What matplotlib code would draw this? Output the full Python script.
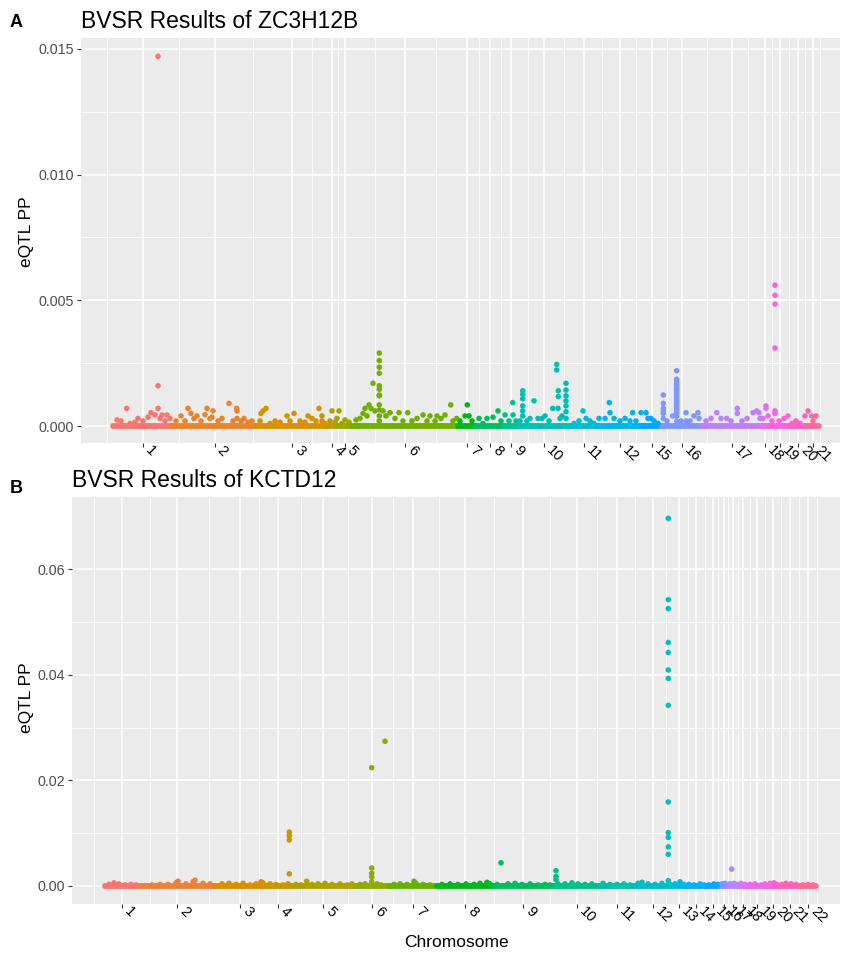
import numpy as np
import matplotlib
matplotlib.use("Agg")
import matplotlib.pyplot as plt

plt.rcParams["font.family"] = ["Liberation Sans", "DejaVu Sans"]

# ---- panel A : ZC3H12B ----
CHR_A = ["1", "2", "3", "4", "5", "6", "7", "8", "9", "10", "11", "12",
         "15", "16", "17", "18", "19", "20", "21"]
# cumulative SNP-index boundaries of each chromosome
BOUNDS_A = [113, 172, 257, 327, 337, 352, 458, 476, 504, 518, 570, 598,
            642, 661, 702, 761, 769, 790, 806, 819]
POS_A = [
    117, 121, 126.7, 130, 135, 138, 143, 148, 151, 155, 158, 158, 158, 160, 162, 165, 167, 170,
    176, 181, 185, 188, 191, 194, 197, 201, 205, 207, 210, 212, 213, 218, 222, 229, 233,
    236.7, 237, 237, 241, 244, 248, 252,
    260, 261, 263, 266, 270, 275, 280, 287, 290, 294, 300, 305, 308, 312, 316, 319, 322, 322, 325,
    330, 332, 335,
    337, 339, 342, 345, 349,
    356, 360, 363, 365, 367, 369, 371, 373, 375, 379.3, 379.3, 379.3, 379.3, 379.3, 379.3,
    379.3, 379.3, 379.3, 379.3, 379.3, 379.3, 383, 386, 390, 395, 399, 403, 407.7, 412, 417,
    423, 427, 430, 435, 437, 441, 445, 450.7, 453, 456.7,
    460, 465, 467.3, 469, 472,
    479, 483, 487, 493, 498, 501,
    505, 509, 512.7, 513, 516,
    520, 522.7, 522.7, 522.7, 522.7, 522.7, 522.7, 527, 530, 534, 538, 542, 545, 549, 552.7,
    556.7, 556.7, 558.3, 558.3, 558, 560, 562, 566, 566, 566, 566, 566, 566, 566,
    574, 579, 583, 586, 590, 594,
    599, 605, 609.3, 610, 614, 620, 625, 630, 632.7, 636, 641,
    646, 648, 651, 654, 658,
    663.3, 663.3, 663.3, 663.3, 667, 672.7, 676.7, 676.7, 676.7, 676.7, 676.7, 676.7, 676.7,
    676.7, 676.7, 676.7, 676.7, 676.7, 676.7, 681, 686, 686, 690, 694, 698, 699,
    676.7, 676.7, 676.7, 676.7, 676.7, 676.7, 676.7, 676.7, 676.7, 676.7, 663.3, 663.3,
    706, 711, 716.7, 721, 726.7, 731, 737.3, 737.3, 742, 747, 753, 756.7, 759, 760,
    763, 766, 766, 768,
    772, 775, 775, 775, 775, 775, 775, 779, 784, 788,
    792, 796, 800, 805,
    808, 811.7, 813, 816,
]
PP_A = [
    0.00024, 0.0002, 0.0007, 0.0001, 0.00015, 0.0003, 0.0002, 0.00035, 0.00053, 0.00044,
    0.0147, 0.0016, 0.0007, 0.0003, 0.00044, 0.0002, 0.00044, 0.0003,
    0.0002, 0.0004, 0.0002, 0.0007, 0.0005, 0.0003, 0.0004, 0.0002, 0.00045, 0.0007, 0.0003,
    0.00035, 0.0006, 0.0002, 0.0003, 0.0009, 0.0002, 0.0007, 0.0006, 0.0003, 0.0002, 0.0003,
    0.00015, 0.0002,
    0.0002, 0.0005, 0.0006, 0.0007, 0.0001, 0.0002, 0.00015, 0.0004, 0.0002, 0.0005, 0.0002,
    0.00015, 0.0004, 0.0003, 0.0002, 0.0007, 0.0004, 0.0002, 0.0001,
    0.0002, 0.0006, 0.00015,
    0.0003, 0.0006, 0.0001, 0.00024, 0.00015,
    0.00024, 0.0003, 0.0005, 0.0007, 0.0004, 0.00084, 0.0007, 0.0017, 0.0006, 0.0029, 0.0026,
    0.00234, 0.0021, 0.0016, 0.00146, 0.00123, 0.0012, 0.00084, 0.00064, 0.0004, 0.0002,
    0.0006, 0.0004, 0.00053, 0.0003, 0.00053, 0.0002, 0.00053, 0.0002, 0.0003,
    0.00044, 0.0002, 0.0004, 0.0002, 0.0004, 0.0003, 0.00044, 0.00084, 0.0002, 0.0003,
    0.0002, 0.0004, 0.00084, 0.0004, 0.0002,
    0.0003, 0.0001, 0.0003, 0.00035, 0.0006, 0.0002,
    0.00044, 0.0002, 0.00093, 0.00044, 0.0002,
    0.0002, 0.0014, 0.00126, 0.00108, 0.0008, 0.0006, 0.0004, 0.0002, 0.0003, 0.001, 0.0003,
    0.0003, 0.0004, 0.0002, 0.0007, 0.00245, 0.00223, 0.0014, 0.00117, 0.0007, 0.0003,
    0.0004, 0.0017, 0.00143, 0.0012, 0.001, 0.0008, 0.00057, 0.0003,
    0.0001, 0.0002, 0.0006, 0.0003, 0.0002, 0.0001,
    0.0003, 0.0003, 0.00093, 0.00053, 0.0003, 0.0002, 0.0003, 0.0002, 0.00053, 0.0002, 0.00053,
    0.00053, 0.0003, 0.0003, 0.0002, 0.0001,
    0.00123, 0.0007, 0.0005, 0.0003, 0.0002, 0.0004, 0.0022, 0.00186, 0.00172, 0.00159,
    0.00146, 0.0013, 0.00117, 0.00103, 0.0009, 0.00074, 0.00057, 0.0004, 0.0002, 0.0002,
    0.00053, 0.0002, 0.0002, 0.0004, 0.00053, 0.0003,
    0.0018, 0.00165, 0.00152, 0.0014, 0.00124, 0.0011, 0.00097, 0.00082, 0.00066, 0.0005,
    0.0009, 0.0006,
    0.0002, 0.0003, 0.00053, 0.0003, 0.0003, 0.0002, 0.0007, 0.0005, 0.0002, 0.0003, 0.00053,
    0.0006, 0.00053, 0.0003,
    0.0003, 0.0008, 0.0007, 0.0004,
    0.0002, 0.0056, 0.0052, 0.00485, 0.0031, 0.0006, 0.0005, 0.0002, 0.0003, 0.0004,
    0.0001, 0.0002, 0.0001, 0.0004,
    0.0006, 0.0004, 0.0002, 0.0004,
]
YTICKS_A = [0.0, 0.005, 0.010, 0.015]
YLABELS_A = ["0.000", "0.005", "0.010", "0.015"]

# ---- panel B : KCTD12 ----
CHR_B = [str(i) for i in range(1, 23)]
BOUNDS_B = [105, 139, 215, 265, 291, 355, 389, 437, 493, 553, 600, 634, 672,
            686, 706, 720, 727, 739, 747, 767, 779, 800, 816]
POS_B = [
    109, 114, 119, 125, 131, 136,
    145, 152, 160, 168, 176, 178, 186, 193, 195, 203, 210,
    222, 229, 236, 243, 250, 256, 261, 263,
    270, 276, 283, 288, 289.3, 289.3, 289.3, 289.3,
    296, 301, 306.7, 312, 318, 325, 332, 340, 347, 352,
    360, 365, 371.7, 371.7, 371.7, 371.7, 371.7, 377, 381, 385,
    394, 400, 407, 414, 416, 423, 430,
    442, 450, 458, 466, 474, 480, 487, 490,
    497, 501, 508, 515, 522, 530, 538, 545, 550,
    556, 556, 556, 558, 565, 572, 578, 585, 592,
    603, 610, 617, 624, 630,
    638, 642, 648, 655, 662, 668.3, 668.3, 668.3, 668.3, 668.3, 668.3, 668.3, 668.3,
    668.3, 668.3, 668.3, 668.3, 668.3, 668.3, 670,
    675, 680, 684,
    689, 694, 700, 704,
    709, 714, 718,
    722, 725,
    730, 731.7, 734, 737,
    741, 745,
    750, 755, 761, 765,
    770, 774, 777,
    782, 786, 791, 796,
    803, 808, 813,
]
PP_B = [
    0.0003, 0.0006, 0.0004, 0.0002, 0.0003, 0.0002,
    0.0001, 0.0002, 0.0003, 0.0003, 0.0006, 0.0009, 0.0004, 0.0008, 0.0011, 0.0005, 0.0004,
    0.0004, 0.0005, 0.0003, 0.0005, 0.0002, 0.0004, 0.0008, 0.0006,
    0.0004, 0.0003, 0.0002, 0.0004, 0.0102, 0.0095, 0.0087, 0.0023,
    0.0003, 0.0002, 0.0009, 0.0003, 0.0004, 0.0005, 0.0003, 0.0004, 0.0002, 0.0004,
    0.0003, 0.0004, 0.0224, 0.0034, 0.0024, 0.0017, 0.0008, 0.0004, 0.0002, 0.0274,
    0.0003, 0.0004, 0.0003, 0.0009, 0.0005, 0.0003, 0.0002,
    0.0003, 0.0004, 0.0003, 0.0004, 0.0003, 0.0005, 0.0007, 0.0004,
    0.0003, 0.0044, 0.0004, 0.0005, 0.0003, 0.0004, 0.0002, 0.0003, 0.0002,
    0.0029, 0.0018, 0.0012, 0.0004, 0.0004, 0.0006, 0.0004, 0.0003, 0.0004,
    0.0005, 0.0003, 0.0003, 0.0004, 0.0002,
    0.0005, 0.0007, 0.0004, 0.0003, 0.0005, 0.0696, 0.0542, 0.0525, 0.0461, 0.0442, 0.0409,
    0.0393, 0.0342, 0.0159, 0.0101, 0.0092, 0.0074, 0.006, 0.001, 0.0003,
    0.0004, 0.0008, 0.0003,
    0.0003, 0.0002, 0.0004, 0.0002,
    0.0002, 0.0004, 0.0003,
    0.0004, 0.0005,
    0.0004, 0.0032, 0.0005, 0.0003,
    0.0005, 0.0003,
    0.0003, 0.0004, 0.0002, 0.0004,
    0.0005, 0.0006, 0.0003,
    0.0003, 0.0005, 0.0004, 0.0003,
    0.0002, 0.0003, 0.0002,
]
YTICKS_B = [0.0, 0.02, 0.04, 0.06]
YLABELS_B = ["0.00", "0.02", "0.04", "0.06"]


def hcl_color(h, c=100.0, l=65.0):
    # ggplot2 / R hcl() -> sRGB
    hr = np.deg2rad(h)
    u, v = c * np.cos(hr), c * np.sin(hr)
    xn, yn, zn = 95.047, 100.0, 108.883
    y = yn * ((l + 16) / 116) ** 3
    un = 4 * xn / (xn + 15 * yn + 3 * zn)
    vn = 9 * yn / (xn + 15 * yn + 3 * zn)
    up = u / (13 * l) + un
    vp = v / (13 * l) + vn
    x = y * 9 * up / (4 * vp)
    z = y * (12 - 3 * up - 20 * vp) / (4 * vp)
    m = np.array([[3.240479, -1.537150, -0.498535],
                  [-0.969256, 1.875992, 0.041556],
                  [0.055648, -0.204043, 1.057311]])
    lin = m @ (np.array([x, y, z]) / 100.0)
    rgb = np.where(lin <= 0.0031308, 12.92 * lin, 1.055 * np.abs(lin) ** (1 / 2.4) - 0.055)
    return tuple(np.clip(rgb, 0, 1))


def hue_pal(n):
    return [hcl_color(h) for h in np.linspace(15, 375, n + 1)[:-1]]


def manhattan(ax, chroms, bounds, pos, pp, yticks, ylabels, ylim, xlim, title):
    bounds = np.asarray(bounds, float)
    pos = np.asarray(pos, float)
    pp = np.asarray(pp, float)
    cols = hue_pal(len(chroms))
    idx = np.clip(np.searchsorted(bounds, pos, side="right") - 1, 0, len(chroms) - 1)
    centers = (bounds[:-1] + bounds[1:]) / 2

    ax.set_facecolor("#EBEBEB")
    for s in ax.spines.values():
        s.set_visible(False)

    # bulk of SNPs sit at PP ~ 0
    for i in range(len(chroms)):
        ln = ax.hlines(0, bounds[i], bounds[i + 1], colors=[cols[i]], lw=4.2, zorder=3)
        ln.set_capstyle("round")
    ax.scatter(pos, pp, s=16, c=[cols[k] for k in idx], linewidths=0, zorder=4)

    ax.set_xlim(*xlim)
    ax.set_ylim(*ylim)
    ax.set_xticks(centers)
    ax.set_xticklabels(chroms, rotation=-45, ha="left", va="bottom",
                       rotation_mode="anchor", fontsize=10.5, color="black")
    step = centers[1] - centers[0]
    minor_x = np.concatenate([[centers[0] - step / 2], (centers[:-1] + centers[1:]) / 2,
                              [centers[-1] + (centers[-1] - centers[-2]) / 2]])
    ax.set_xticks(minor_x, minor=True)
    ax.set_yticks(yticks)
    ax.set_yticklabels(ylabels, fontsize=10.3, color="#4D4D4D")
    yt = np.asarray(yticks)
    ax.set_yticks((yt[:-1] + yt[1:]) / 2, minor=True)
    ax.tick_params(which="major", length=3, width=0.8, color="#333333", pad=2)
    ax.tick_params(axis="x", which="major", pad=4)
    ax.tick_params(which="minor", length=0)
    ax.grid(which="major", color="white", lw=1.1, zorder=0)
    ax.grid(which="minor", color="white", lw=0.55, zorder=0)
    ax.set_axisbelow(True)
    ax.set_title(title, loc="left", fontsize=16.5, pad=7)


W, H = 841, 955
fig = plt.figure(figsize=(W / 100, H / 100), dpi=100)
axA = fig.add_axes([81 / W, 1 - 443 / H, (840 - 81) / W, (443 - 38) / H])
axB = fig.add_axes([72 / W, 1 - 904 / H, (840 - 72) / W, (904 - 497) / H])

manhattan(axA, CHR_A, BOUNDS_A, POS_A, PP_A, YTICKS_A, YLABELS_A,
          (-0.000676, 0.01543), (81, 840), "BVSR Results of ZC3H12B")
manhattan(axB, CHR_B, BOUNDS_B, POS_B, PP_B, YTICKS_B, YLABELS_B,
          (-0.00341, 0.07364), (72, 840), "BVSR Results of KCTD12")

fig.text(10 / W, 1 - 27 / H, "A", fontsize=13, fontweight="bold", ha="left", va="baseline")
fig.text(10 / W, 1 - 493 / H, "B", fontsize=13, fontweight="bold", ha="left", va="baseline")
fig.text(26 / W, 1 - 232 / H, "eQTL PP", rotation=90, fontsize=12.5, ha="center", va="center")
fig.text(26 / W, 1 - 698 / H, "eQTL PP", rotation=90, fontsize=12.5, ha="center", va="center")
fig.text(456 / W, 1 - 942 / H, "Chromosome", fontsize=12.5, ha="center", va="center")

fig.savefig("out.png", dpi=100)
